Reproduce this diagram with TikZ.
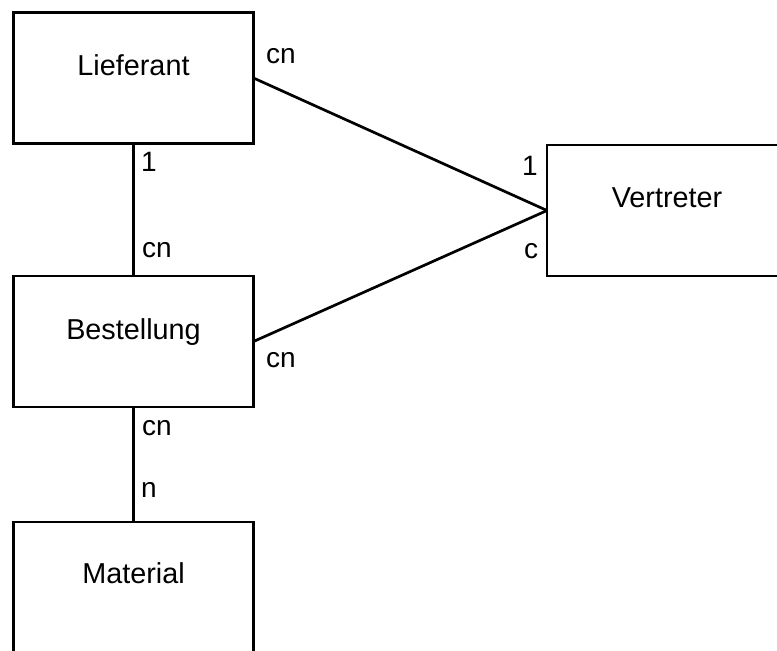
\documentclass[tikz,border=0pt]{standalone}
\usepackage{fontspec}
\setmainfont{Liberation Sans}
\begin{document}
\begin{tikzpicture}[x=1pt,y=-1pt,
  entity/.style={draw,line width=2.7pt,minimum width=240pt,minimum height=131pt,
                 outer sep=0pt,inner sep=0pt},
  ename/.style={anchor=base,inner sep=0pt,font=\fontsize{28.8}{34}\selectfont},
  card/.style={anchor=base west,inner sep=0pt,font=\fontsize{28}{34}\selectfont},
  rel/.style={line width=2.7pt}]
\useasboundingbox (0,0) rectangle (777,651);
\clip (0,0) rectangle (777,651);

% entity boxes
\node[entity] (lief) at (133.5,78) {};
\node[entity] (vert) at (667,210.5) {};
\node[entity] (best) at (133.5,341.5) {};
\node[entity] (mat)  at (133.5,587.5) {};

% entity names
\node[ename] (liefname) at ([yshift=-62.5pt]lief.north) {Lieferant};
\node[ename] (vertname) at ([yshift=-62pt]vert.north) {Vertreter};
\node[ename] (bestname) at ([yshift=-63pt]best.north) {Bestellung};
\node[ename] (matname)  at ([yshift=-61pt]mat.north) {Material};

% relationships
\draw[rel] (lief.east) -- (vert.west);
\draw[rel] (best.east) -- (vert.west);
\draw[rel] (lief.south) -- (best.north);
\draw[rel] (best.south) -- (mat.north);

% cardinalities
\node[card] (c1) at (266,63)  {cn};
\node[card] (c2) at (522,175) {1};
\node[card] (c3) at (141,171) {1};
\node[card] (c4) at (142,257) {cn};
\node[card] (c5) at (524,258) {c};
\node[card] (c6) at (266,367) {cn};
\node[card] (c7) at (142,435) {cn};
\node[card] (c8) at (141,497) {n};
\end{tikzpicture}
\end{document}
